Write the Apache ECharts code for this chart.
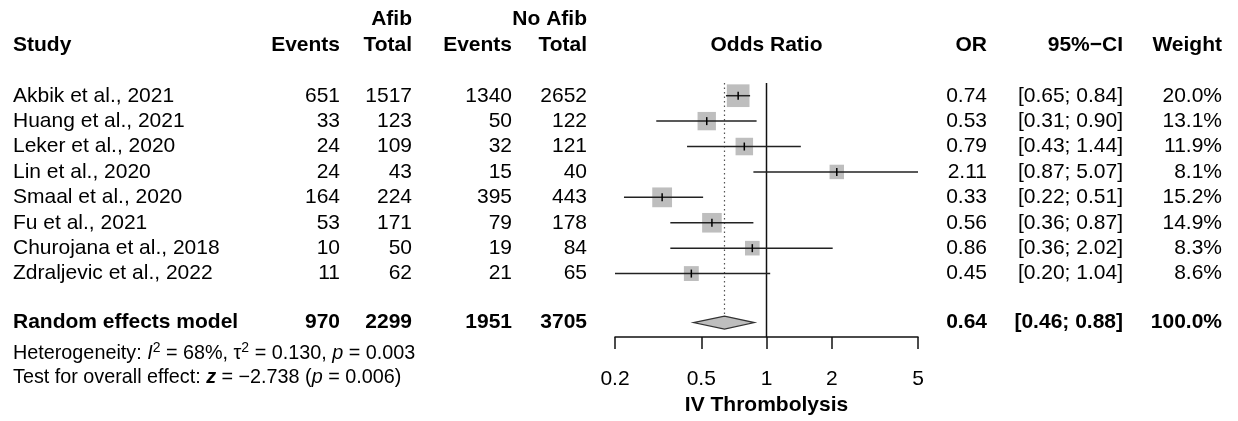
<!DOCTYPE html>
<html><head><meta charset="utf-8">
<script src="https://cdn.jsdelivr.net/npm/echarts@6/dist/echarts.min.js"></script>
<style>html,body{margin:0;padding:0;background:#fff}#c{width:1238px;height:421px}</style>
</head><body><div id="c"></div>
<script>
// ---------- data ----------
const studies = ["Akbik et al., 2021","Huang et al., 2021","Leker et al., 2020","Lin et al., 2020","Smaal et al., 2020","Fu et al., 2021","Churojana et al., 2018","Zdraljevic et al., 2022"];
const afibEvents   = [651, 33, 24, 24, 164, 53, 10, 11];
const afibTotal    = [1517, 123, 109, 43, 224, 171, 50, 62];
const noAfibEvents = [1340, 50, 32, 15, 395, 79, 19, 21];
const noAfibTotal  = [2652, 122, 121, 40, 443, 178, 84, 65];
const oddsRatio = [0.74, 0.53, 0.79, 2.11, 0.33, 0.56, 0.86, 0.45];
const ciLower   = [0.65, 0.31, 0.43, 0.87, 0.22, 0.36, 0.36, 0.20];
const ciUpper   = [0.84, 0.90, 1.44, 5.07, 0.51, 0.87, 2.02, 1.04];
const weights   = [20.0, 13.1, 11.9, 8.1, 15.2, 14.9, 8.3, 8.6];
const summaryLabel = "Random effects model";
const summaryCounts = [970, 2299, 1951, 3705];
const summaryOR = 0.64, summaryLower = 0.46, summaryUpper = 0.88;
const summaryWeight = 100.0;
const hetI2 = 68, hetTau2 = 0.130, hetP = 0.003;
const overallZ = -2.738, overallP = 0.006;
const xTicks = [0.2, 0.5, 1, 2, 5];
const groupHeaders = ["Afib", "No Afib"];
const columnHeaders = ["Study", "Events", "Total", "Events", "Total", "Odds Ratio", "OR", "95%\u2212CI", "Weight"];
const xAxisTitle = "IV Thrombolysis";

// ---------- layout / style ----------
const FONT = '"Liberation Sans", Arial, Helvetica, sans-serif';
const FS = 21, FS_SMALL = 19.8;
const X_MIN = 0.2, X_MAX = 5;
const COL = {study: 13, afibEv: 340, afibTot: 412, noEv: 512, noTot: 587, or: 987, ci: 1123, w: 1222};
const ROW_GROUP = -3, ROW_HEAD = -2, ROW_SUM = 8.93, ROW_HET = 10.15, ROW_TEST = 11.1;
const BOX_MAX = 22.7;
const maxW = Math.max(...weights);

function txt(text, x, y, align, bold, size) {
  return {type: 'text', style: {text: String(text), x: x, y: y, align: align, verticalAlign: 'middle',
    fill: '#000', fontSize: size || FS, fontWeight: bold ? 'bold' : 'normal', fontFamily: FONT}};
}
const f2 = v => v.toFixed(2);
const ciText = (lo, hi) => '[' + f2(lo) + '; ' + f2(hi) + ']';
const signed = v => (v < 0 ? '\u2212' : '') + Math.abs(v).toFixed(3);

const studyData = studies.map((s, i) => [oddsRatio[i], i, ciLower[i], ciUpper[i], weights[i]]);
const textRows = [ROW_GROUP, ROW_HEAD].concat(studies.map((s, i) => i)).concat([ROW_SUM, ROW_HET, ROW_TEST]).map(r => [1, r]);

const chart = echarts.init(document.getElementById('c'), null, {renderer: 'canvas'});
chart.setOption({
  animation: false,
  backgroundColor: '#fff',
  grid: {left: 615, right: 320, top: 83, bottom: 78},
  xAxis: {
    type: 'log', logBase: 10, min: X_MIN, max: X_MAX,
    splitLine: {show: false},
    axisLine: {show: true, onZero: false, lineStyle: {color: '#111', width: 1.5}},
    axisTick: {show: true, customValues: xTicks, length: 12, inside: false, lineStyle: {color: '#111', width: 1.5}},
    axisLabel: {customValues: xTicks, formatter: v => String(v), fontSize: FS, fontFamily: FONT, color: '#000', margin: 32},
    minorTick: {show: false},
    name: xAxisTitle, nameLocation: 'middle', nameGap: 57,
    nameTextStyle: {fontSize: FS, fontWeight: 'bold', fontFamily: FONT, color: '#000'}
  },
  yAxis: {type: 'value', inverse: true, min: -0.5, max: 9.5, show: false},
  series: [
    { // reference lines
      type: 'custom', silent: true, z: 1,
      data: [[1, -0.5, 9.5, 0], [summaryOR, -0.5, ROW_SUM, 1]],
      renderItem(params, api) {
        const a = api.coord([api.value(0), api.value(1)]);
        const b = api.coord([api.value(0), api.value(2)]);
        const dotted = api.value(3) === 1;
        return {type: 'line', shape: {x1: a[0], y1: a[1], x2: b[0], y2: dotted ? b[1] - 7 : b[1]},
          style: dotted ? {stroke: '#555', lineWidth: 1.2, lineDash: [1.5, 3]} : {stroke: '#111', lineWidth: 1.5}};
      }
    },
    { // study boxes + CIs
      type: 'custom', silent: true, z: 2,
      data: studyData,
      renderItem(params, api) {
        const row = api.value(1);
        const p = api.coord([api.value(0), row]);
        const lo = api.coord([Math.max(api.value(2), X_MIN), row]);
        const hi = api.coord([Math.min(api.value(3), X_MAX), row]);
        const s = BOX_MAX * Math.sqrt(api.value(4) / maxW);
        return {type: 'group', children: [
          {type: 'rect', shape: {x: p[0] - s / 2, y: p[1] - s / 2, width: s, height: s}, style: {fill: '#bebebe'}},
          {type: 'line', shape: {x1: lo[0], y1: lo[1], x2: hi[0], y2: hi[1]}, style: {stroke: '#222', lineWidth: 1.5}},
          {type: 'line', shape: {x1: p[0], y1: p[1] - 4, x2: p[0], y2: p[1] + 4}, style: {stroke: '#000', lineWidth: 1.5}}
        ]};
      }
    },
    { // summary diamond
      type: 'custom', silent: true, z: 3,
      data: [[summaryOR, ROW_SUM, summaryLower, summaryUpper]],
      renderItem(params, api) {
        const row = api.value(1);
        const c = api.coord([api.value(0), row]);
        const l = api.coord([api.value(2), row]);
        const r = api.coord([api.value(3), row]);
        const h = 6.5;
        return {type: 'polygon', shape: {points: [[l[0], c[1]], [c[0], c[1] - h], [r[0], c[1]], [c[0], c[1] + h]]},
          style: {fill: '#bebebe', stroke: '#333', lineWidth: 1.2}};
      }
    },
    { // table text
      type: 'custom', silent: true, z: 4,
      data: textRows,
      renderItem(params, api) {
        const row = api.value(1);
        const y = api.coord([1, row])[1];
        const cx = api.coord([1, row])[0];
        let ch = [];
        if (row === ROW_GROUP) {
          ch = [txt(groupHeaders[0], COL.afibTot, y, 'right', true), txt(groupHeaders[1], COL.noTot, y, 'right', true)];
        } else if (row === ROW_HEAD) {
          const h = columnHeaders;
          ch = [txt(h[0], COL.study, y, 'left', true), txt(h[1], COL.afibEv, y, 'right', true),
            txt(h[2], COL.afibTot, y, 'right', true), txt(h[3], COL.noEv, y, 'right', true),
            txt(h[4], COL.noTot, y, 'right', true), txt(h[5], cx, y, 'center', true),
            txt(h[6], COL.or, y, 'right', true), txt(h[7], COL.ci, y, 'right', true), txt(h[8], COL.w, y, 'right', true)];
        } else if (row === ROW_SUM) {
          ch = [txt(summaryLabel, COL.study, y, 'left', true), txt(summaryCounts[0], COL.afibEv, y, 'right', true),
            txt(summaryCounts[1], COL.afibTot, y, 'right', true), txt(summaryCounts[2], COL.noEv, y, 'right', true),
            txt(summaryCounts[3], COL.noTot, y, 'right', true), txt(f2(summaryOR), COL.or, y, 'right', true),
            txt(ciText(summaryLower, summaryUpper), COL.ci, y, 'right', true),
            txt(summaryWeight.toFixed(1) + '%', COL.w, y, 'right', true)];
        } else if (row === ROW_HET) {
          ch = [{type: 'text', style: {
            text: '{n|Heterogeneity: }{i|I}{s|2}{n| = ' + hetI2 + '%, \u03c4}{s|2}{n| = ' + hetTau2.toFixed(3) + ', }{i|p}{n| = ' + hetP.toFixed(3) + '}',
            x: COL.study, y: y, align: 'left', verticalAlign: 'middle',
            rich: {
              n: {fontSize: FS_SMALL, fontFamily: FONT, fill: '#000', lineHeight: 24},
              i: {fontSize: FS_SMALL, fontFamily: FONT, fontStyle: 'italic', fill: '#000', lineHeight: 24},
              s: {fontSize: 14, fontFamily: FONT, fill: '#000', lineHeight: 24, verticalAlign: 'top'}
            }}}];
        } else if (row === ROW_TEST) {
          ch = [{type: 'text', style: {
            text: '{n|Test for overall effect: }{b|z}{n| = ' + signed(overallZ) + ' (}{i|p}{n| = ' + overallP.toFixed(3) + ')}',
            x: COL.study, y: y, align: 'left', verticalAlign: 'middle',
            rich: {
              n: {fontSize: FS_SMALL, fontFamily: FONT, fill: '#000'},
              i: {fontSize: FS_SMALL, fontFamily: FONT, fontStyle: 'italic', fill: '#000'},
              b: {fontSize: FS_SMALL, fontFamily: FONT, fontWeight: 'bold', fontStyle: 'italic', fill: '#000'}
            }}}];
        } else {
          const i = row;
          ch = [txt(studies[i], COL.study, y, 'left'), txt(afibEvents[i], COL.afibEv, y, 'right'),
            txt(afibTotal[i], COL.afibTot, y, 'right'), txt(noAfibEvents[i], COL.noEv, y, 'right'),
            txt(noAfibTotal[i], COL.noTot, y, 'right'), txt(f2(oddsRatio[i]), COL.or, y, 'right'),
            txt(ciText(ciLower[i], ciUpper[i]), COL.ci, y, 'right'),
            txt(weights[i].toFixed(1) + '%', COL.w, y, 'right')];
        }
        return {type: 'group', children: ch};
      }
    }
  ]
});
</script></body></html>
